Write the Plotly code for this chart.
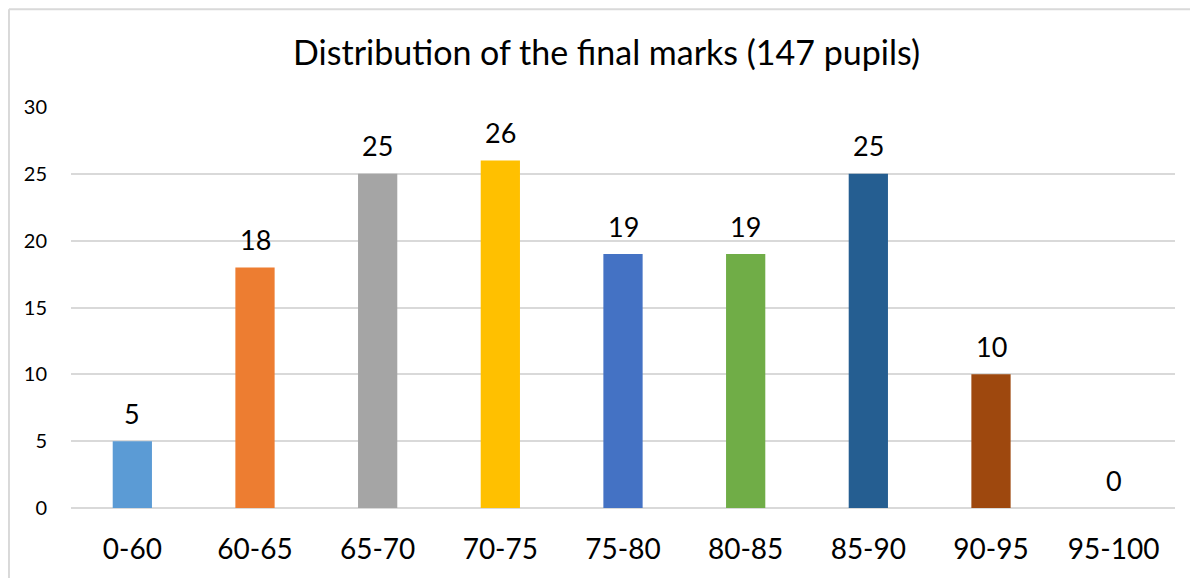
import plotly.graph_objects as go

ranges = ["0-60", "60-65", "65-70", "70-75", "75-80", "80-85", "85-90", "90-95", "95-100"]
pupils = [5, 18, 25, 26, 19, 19, 25, 10, 0]
bar_colors = ["#5B9BD5", "#ED7D31", "#A5A5A5", "#FFC000", "#4472C4",
              "#70AD47", "#255E91", "#9E480E", "#636363"]

font_family = "Lato, 'Open Sans', sans-serif"

fig = go.Figure(go.Bar(
    x=ranges, y=pupils,
    marker=dict(color=bar_colors, line_width=0),
    width=0.32,
    hoverinfo="x+y",
))

# value labels sitting a little above each bar (Excel style)
for cat, val in zip(ranges, pupils):
    fig.add_annotation(x=cat, y=val, text=str(val), showarrow=False,
                       yanchor="middle", yshift=28,
                       font=dict(size=27, color="#000000", family=font_family))

fig.update_layout(
    width=1190, height=570,
    margin=dict(l=63, r=23, t=99, b=70),
    paper_bgcolor="white", plot_bgcolor="white",
    font=dict(family=font_family, color="#000000"),
    title=dict(text="Distribution of the final marks (147 pupils)",
               x=0.503, xanchor="center", y=0.921, yanchor="middle",
               font=dict(size=34, color="#000000")),
    showlegend=False,
)
fig.update_xaxes(showgrid=False, showline=False, ticks="",
                 tickfont=dict(size=28), ticklabelstandoff=22)
fig.update_yaxes(range=[0, 30], dtick=5, showgrid=True, gridcolor="#d9d9d9",
                 gridwidth=1.5, zeroline=True, zerolinecolor="#d9d9d9",
                 zerolinewidth=1.5, showline=False, ticks="",
                 tickfont=dict(size=20), ticklabelstandoff=23)

# chart border (light gray frame like Excel), left and top edges
fig.add_shape(type="line", xref="paper", yref="paper",
              x0=-0.0562, x1=-0.0562, y0=-0.2, y1=1.244,
              line=dict(color="#d9d9d9", width=2))
fig.add_shape(type="line", xref="paper", yref="paper",
              x0=-0.0562, x1=1.03, y0=1.244, y1=1.244,
              line=dict(color="#d9d9d9", width=2))

fig.write_html("out.html")
